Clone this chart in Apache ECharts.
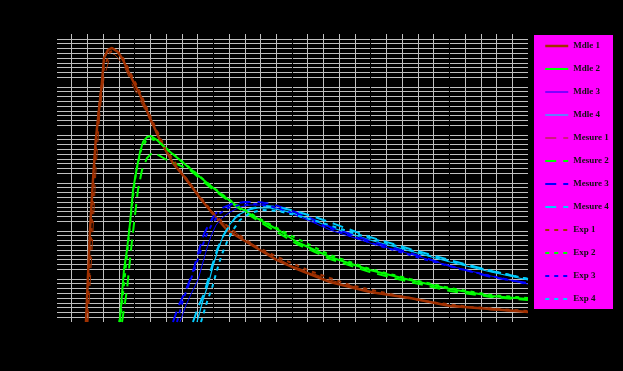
<!DOCTYPE html>
<html>
<head>
<meta charset="utf-8">
<script src="https://cdn.jsdelivr.net/npm/echarts@6/dist/echarts.min.js"></script>
<style>
html,body{margin:0;padding:0;background:#000;}
#chart{width:623px;height:371px;}
</style>
</head>
<body>
<div id="chart"></div>
<script>
// Series names
var seriesNames = ['Mdle 1','Mdle 2','Mdle 3','Mdle 4','Mesure 1','Mesure 2','Mesure 3','Mesure 4','Exp 1','Exp 2','Exp 3','Exp 4'];

// Model curves [x, y]
var mdle1 = [[0.381,0],[0.432,1.917],[0.470,2.958],[0.505,3.79],[0.581,4.94],[0.610,5.5],[0.661,5.67],[0.712,5.71],[0.788,5.625],[0.852,5.458],[0.941,5.146],[1.068,4.729],[1.195,4.25],[1.322,3.79],[1.487,3.31],[1.665,2.958],[1.830,2.583],[1.996,2.25],[2.174,1.917],[2.339,1.75],[2.593,1.5],[2.809,1.29],[3.063,1.104],[3.483,0.833],[3.991,0.625],[4.5,0.5],[5.008,0.333],[5.53,0.27],[6.0,0.21]];
var mdle2 = [[0.801,0],[0.814,0.08],[0.864,1.083],[0.902,1.5],[0.941,2.06],[0.979,2.75],[1.030,3.23],[1.068,3.54],[1.106,3.75],[1.157,3.854],[1.208,3.875],[1.284,3.79],[1.424,3.58],[1.576,3.375],[1.830,3.02],[2.047,2.73],[2.301,2.417],[2.593,2.125],[2.847,1.896],[3.063,1.667],[3.483,1.354],[3.991,1.083],[4.5,0.875],[5.008,0.6875],[5.53,0.54],[6.0,0.48]];
var mdle3 = [[1.576,0],[1.653,0.354],[1.729,0.625],[1.805,0.875],[1.869,1.25],[1.919,1.54],[1.970,1.79],[2.034,2.02],[2.110,2.167],[2.212,2.29],[2.339,2.396],[2.466,2.4375],[2.619,2.4375],[2.797,2.375],[2.974,2.27],[3.229,2.104],[3.483,1.917],[3.991,1.646],[4.5,1.417],[5.008,1.167],[5.53,0.958],[6.0,0.79]];
var mdle4 = [[1.792,0],[1.869,0.458],[1.932,0.77],[1.996,1.167],[2.059,1.5],[2.123,1.79],[2.212,2.04],[2.314,2.229],[2.441,2.333],[2.568,2.375],[2.720,2.375],[2.974,2.29],[3.229,2.146],[3.483,1.979],[3.991,1.708],[4.5,1.479],[5.008,1.25],[5.53,1.042],[6.0,0.875]];

// Measured curves [x, y]
var mesure1 = [[0.407,0],[0.458,1.5],[0.508,3.167],[0.559,4.375],[0.610,5.083],[0.674,5.458],[0.737,5.583],[0.788,5.5],[0.877,5.29],[0.979,4.917],[1.131,4.417],[1.322,3.77],[1.513,3.25],[1.703,2.833],[1.894,2.458],[2.110,2.083],[2.339,1.79],[2.619,1.5],[2.974,1.1875],[3.483,0.875],[3.991,0.646],[4.5,0.479],[5.008,0.354],[5.53,0.25],[6.0,0.208]];
var mesure2 = [[0.839,0],[0.902,0.667],[0.953,1.5],[1.004,2.23],[1.042,2.75],[1.093,3.167],[1.157,3.417],[1.233,3.54],[1.297,3.48],[1.411,3.375],[1.538,3.29],[1.703,3.167],[1.958,2.81],[2.301,2.396],[2.593,2.083],[3.063,1.625],[3.483,1.3125],[3.991,1.04],[4.5,0.833],[5.008,0.646],[5.53,0.52],[6.0,0.458]];
var mesure3 = [[1.487,0],[1.563,0.354],[1.640,0.625],[1.703,0.875],[1.754,1.125],[1.818,1.5],[1.881,1.833],[1.945,2.04],[2.021,2.25],[2.110,2.375],[2.237,2.458],[2.402,2.5],[2.568,2.5],[2.746,2.458],[2.974,2.333],[3.229,2.167],[3.483,1.979],[3.991,1.6875],[4.5,1.4375],[5.008,1.167],[5.53,0.9375],[6.0,0.8125]];
var mesure4 = [[1.741,0],[1.818,0.354],[1.881,0.583],[1.932,0.875],[1.983,1.167],[2.047,1.5],[2.110,1.75],[2.186,1.958],[2.275,2.167],[2.377,2.29],[2.504,2.375],[2.657,2.417],[2.822,2.396],[3.038,2.3125],[3.292,2.1875],[3.546,2.04],[3.991,1.77],[4.5,1.52],[5.008,1.29],[5.53,1.0625],[6.0,0.896]];

// Experimental curves [x, y]
var exp1 = [[0.394,0],[0.445,1.708],[0.496,3.375],[0.547,4.52],[0.610,5.29],[0.686,5.625],[0.763,5.667],[0.839,5.54],[0.941,5.21],[1.068,4.79],[1.220,4.208],[1.386,3.625],[1.576,3.167],[1.792,2.6875],[2.021,2.229],[2.237,1.917],[2.530,1.583],[2.847,1.333],[3.229,1.0625],[3.737,0.77],[4.246,0.583],[4.754,0.417],[5.262,0.3125],[6.0,0.229]];
var exp2 = [[0.814,0],[0.864,0.77],[0.915,1.604],[0.966,2.4375],[1.017,3.125],[1.081,3.583],[1.144,3.77],[1.220,3.8125],[1.322,3.73],[1.475,3.52],[1.703,3.208],[1.958,2.854],[2.275,2.458],[2.593,2.146],[2.974,1.8125],[3.483,1.396],[3.991,1.104],[4.5,0.896],[5.008,0.708],[5.53,0.5625],[6.0,0.5]];
var exp3 = [[1.538,0],[1.614,0.458],[1.691,0.79],[1.767,1.125],[1.843,1.5],[1.907,1.79],[1.983,2.04],[2.072,2.25],[2.186,2.375],[2.339,2.4375],[2.530,2.458],[2.720,2.417],[2.974,2.29],[3.229,2.125],[3.610,1.875],[4.119,1.583],[4.627,1.333],[5.135,1.104],[5.644,0.917],[6.0,0.79]];
var exp4 = [[1.843,0],[1.919,0.417],[1.983,0.708],[2.047,1.083],[2.110,1.417],[2.174,1.667],[2.250,1.917],[2.339,2.125],[2.466,2.27],[2.619,2.333],[2.822,2.3125],[3.038,2.229],[3.356,2.083],[3.737,1.875],[4.246,1.625],[4.754,1.375],[5.262,1.167],[6.0,0.896]];

var seriesData = [mdle1, mdle2, mdle3, mdle4, mesure1, mesure2, mesure3, mesure4, exp1, exp2, exp3, exp4];

// Styles
var colors = ['#A03000','#00FF00','#0000FF','#00CCFF'];
var widths = [2.5,2,1,1.2, 1,2,2,2, 2,2,2,2];

var series = seriesData.map(function (d, i) {
  var family = Math.floor(i / 4);
  var type = family === 0 ? 'solid' : (family === 1 ? [11, 7] : [4, 5]);
  return {
    name: seriesNames[i],
    type: 'line',
    data: d,
    symbol: 'none',
    showSymbol: false,
    smooth: false,
    clip: true,
    color: colors[i % 4],
    itemStyle: { color: colors[i % 4], opacity: 0 },
    lineStyle: { color: colors[i % 4], width: widths[i], type: type },
    emphasis: { disabled: true }
  };
});

var chart = echarts.init(document.getElementById('chart'), null, { renderer: 'canvas' });

function axis(split) {
  return {
    type: 'value',
    min: 0,
    max: 6,
    interval: 1,
    axisLine: { show: false },
    axisTick: { show: false },
    axisLabel: { show: false },
    splitLine: { show: true, lineStyle: { color: '#000000', width: 1 } },
    minorTick: { show: true, splitNumber: split, length: 1, lineStyle: { color: '#000000' } },
    minorSplitLine: { show: true, lineStyle: { color: '#c0c0c0', width: 1 } }
  };
}

chart.setOption({
  backgroundColor: '#000000',
  animation: false,
  grid: { left: 56, top: 34, width: 472, height: 288, containLabel: false },
  xAxis: axis(5),
  yAxis: axis(10),
  graphic: [{
    type: 'rect', left: 534, top: 35, z: 0,
    shape: { width: 79, height: 274 },
    style: { fill: '#FF00FF' }
  }],
  legend: {
    data: seriesNames,
    orient: 'vertical',
    left: 544,
    top: 41,
    padding: 0,
    itemWidth: 23,
    itemHeight: 10,
    itemGap: 13,
    backgroundColor: 'transparent',
    selectedMode: false,
    itemStyle: { opacity: 0 },
    lineStyle: { type: 'inherit', width: 'inherit' },
    textStyle: { fontFamily: 'Liberation Serif', fontWeight: 'bold', fontSize: 9, color: '#111111', lineHeight: 10 }
  },
  series: series
});
</script>
</body>
</html>
